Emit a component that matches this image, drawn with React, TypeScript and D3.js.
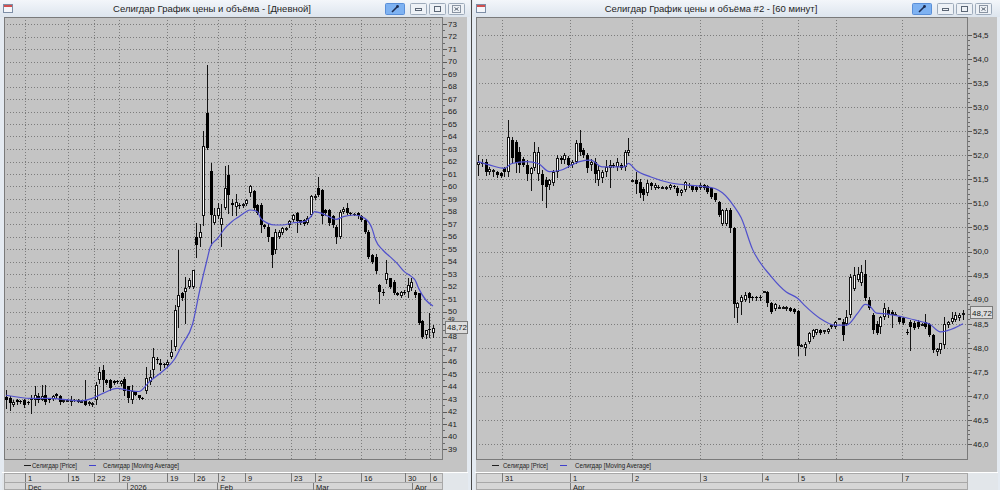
import React from "react";
import * as d3 from "d3";

type Candle = [number, number, number, number]; // open, high, low, close

// ---------- Daily panel data ----------
const dailyCandles: Candle[] = [
  [43.15, 43.7, 42.3, 42.9], [43.05, 43.2, 42.1, 42.65], [42.55, 42.9, 42.45, 42.8], [42.9, 43.0, 42.6, 42.75],
  [42.85, 42.95, 42.7, 42.8], [42.9, 43.0, 42.35, 42.5], [42.75, 42.85, 42.6, 42.7], [42.9, 43.3, 41.9, 43.1],
  [42.9, 44.0, 42.5, 43.3], [43.2, 43.5, 42.8, 42.9], [42.95, 44.1, 42.9, 43.2], [43.3, 44.1, 42.6, 42.8],
  [43.0, 43.1, 42.8, 42.9], [43.0, 43.3, 42.9, 43.2], [43.4, 43.5, 43.1, 43.2], [43.2, 43.3, 42.6, 42.8],
  [42.9, 43.0, 42.8, 42.9], [42.9, 43.0, 42.85, 42.95], [42.8, 43.2, 42.5, 42.95], [42.95, 43.0, 42.85, 42.9],
  [42.95, 43.0, 42.75, 42.8], [42.85, 42.9, 42.75, 42.85], [42.95, 44.5, 42.5, 42.5], [42.6, 42.85, 42.55, 42.8],
  [42.5, 42.75, 42.45, 42.7], [42.9, 44.4, 42.6, 44.1], [44.5, 45.6, 44.3, 45.2], [45.3, 45.7, 43.6, 44.5],
  [44.5, 44.6, 44.2, 44.3], [44.5, 44.6, 43.7, 43.9], [44.45, 44.5, 44.2, 44.3], [44.45, 44.5, 44.3, 44.35],
  [44.2, 44.5, 44.1, 44.45], [44.6, 44.8, 43.3, 43.6], [44.0, 44.0, 42.8, 43.05], [42.9, 44.1, 42.65, 43.6],
  [43.6, 43.65, 43.3, 43.35], [43.3, 43.35, 43.0, 43.1], [43.1, 43.15, 43.0, 43.05], [43.6, 45.6, 43.5, 44.65],
  [44.4, 45.3, 44.2, 44.8], [45.3, 47.05, 44.8, 46.4], [46.2, 46.4, 45.9, 46.1], [45.9, 46.2, 45.3, 45.7],
  [45.8, 45.9, 45.6, 45.75], [45.7, 46.1, 45.6, 46.0], [46.4, 47.7, 46.3, 46.8], [47.2, 50.5, 46.9, 50.1],
  [50.4, 54.9, 48.8, 51.3], [51.45, 51.6, 50.9, 51.05], [51.6, 52.8, 49.1, 51.9], [52.0, 52.7, 51.9, 52.5],
  [52.0, 53.3, 51.9, 53.3], [56.0, 57.1, 54.4, 55.3], [55.9, 57.0, 55.2, 56.4], [57.6, 64.4, 56.9, 63.2],
  [65.85, 69.7, 63.0, 63.05], [61.2, 61.9, 55.3, 57.7], [57.1, 58.3, 57.0, 57.7], [57.6, 58.7, 57.5, 58.3],
  [56.9, 58.6, 55.2, 57.5], [58.3, 61.6, 58.2, 59.9], [60.9, 61.7, 57.9, 59.3], [58.65, 59.0, 57.7, 58.5],
  [58.4, 59.4, 57.7, 58.8], [58.55, 58.7, 58.3, 58.5], [58.5, 58.7, 58.4, 58.6], [58.6, 59.0, 58.5, 58.9],
  [59.5, 60.1, 59.2, 60.0], [59.6, 59.7, 58.2, 58.3], [58.5, 58.6, 57.8, 57.9], [58.5, 58.65, 56.4, 56.9],
  [56.9, 57.0, 56.7, 56.8], [56.8, 57.05, 55.6, 56.0], [56.0, 56.0, 53.6, 54.5], [54.9, 56.6, 54.7, 56.4],
  [56.0, 56.5, 55.9, 56.4], [56.3, 56.8, 56.2, 56.65], [56.6, 56.75, 56.5, 56.65], [56.9, 57.3, 56.8, 57.2],
  [57.3, 57.8, 57.2, 57.7], [57.85, 58.0, 56.4, 57.2], [57.3, 57.35, 57.0, 57.1], [57.3, 57.4, 56.9, 57.0],
  [57.05, 57.6, 57.0, 57.45], [57.7, 59.3, 57.6, 59.2], [59.05, 59.4, 59.0, 59.2], [59.85, 60.8, 59.2, 59.3],
  [59.7, 59.8, 57.05, 57.6], [58.1, 58.2, 57.7, 57.85], [58.1, 58.2, 56.95, 57.05], [57.6, 57.7, 56.8, 56.9],
  [56.8, 56.9, 55.45, 56.0], [56.0, 58.1, 55.9, 58.0], [58.0, 58.4, 57.9, 58.2], [58.25, 58.65, 57.8, 57.85],
  [57.9, 58.0, 57.7, 57.8], [57.8, 57.9, 57.7, 57.75], [57.85, 57.95, 57.5, 57.6], [57.6, 57.7, 57.2, 57.3],
  [57.3, 57.4, 56.3, 56.4], [56.4, 56.5, 54.3, 54.4], [54.5, 54.6, 53.9, 54.0], [54.4, 54.6, 53.1, 53.2],
  [52.1, 52.2, 50.65, 51.6], [51.6, 51.8, 51.3, 51.45], [52.5, 54.1, 52.25, 53.05], [52.65, 52.7, 51.9, 52.0],
  [52.4, 52.5, 51.4, 51.45], [51.5, 51.6, 51.3, 51.35], [51.25, 51.65, 51.2, 51.6], [51.6, 51.7, 51.4, 51.5],
  [51.6, 52.65, 51.2, 52.1], [51.85, 52.65, 51.7, 52.4], [51.6, 51.7, 51.2, 51.3], [51.45, 51.5, 49.0, 49.05],
  [49.2, 49.3, 47.9, 48.0], [48.1, 48.55, 47.9, 48.5], [48.6, 49.85, 48.0, 48.5], [48.25, 48.9, 48.0, 48.72],
];

// moving average: [candle index, value]
const dailyMA: [number, number][] = [
  [0, 43.3], [7, 43.05], [12, 43.05], [21, 42.85], [24, 43.05], [27, 43.45], [31, 43.85], [34, 43.7],
  [37, 43.6], [40, 44.4], [44, 45.3], [47, 46.2], [49, 47.3], [52, 49.0], [54, 51.7], [56, 54.1],
  [57, 55.2], [59, 55.85], [61, 56.65], [63, 57.2], [65, 57.6], [67, 58.0], [68, 58.12], [70, 58.0],
  [71, 57.45], [73, 57.05], [75, 56.92], [77, 56.92], [80, 57.1], [83, 57.19], [85, 57.6], [86, 57.99],
  [88, 57.85], [90, 57.59], [92, 57.37], [94, 57.59], [97, 57.72], [100, 57.45], [102, 56.65], [103, 55.72],
  [105, 54.92], [107, 54.39], [109, 53.85], [111, 53.19], [113, 52.79], [114, 52.52], [115, 51.85],
  [117, 50.92], [119, 50.44],
];

const dailyDayTicks = [5.2, 17.4, 24.5, 31.5, 45.0, 52.3, 59.2, 66.6, 79.3, 86.0, 98.8, 111.1, 118.2];
const dailyDayLabels = ["1", "15", "22", "29", "19", "26", "2", "9", "23", "2", "16", "30", "6"];
const dailyMonthTicks = [5.2, 33.6, 58.8, 85.6, 113.1];
const dailyMonthLabels = ["Dec", "2026", "Feb", "Mar", "Apr"];
const dailyYTicks = d3.range(39, 74, 1);

// ---------- Hourly panel data ----------
const hourlyCandles: Candle[] = [
  [51.8, 52.0, 51.59, 51.87], [51.85, 51.92, 51.78, 51.82], [51.87, 51.93, 51.6, 51.66], [51.66, 51.75, 51.62, 51.71],
  [51.66, 51.72, 51.58, 51.7], [51.66, 51.68, 51.55, 51.59], [51.64, 51.66, 51.55, 51.57], [51.73, 51.76, 51.56, 51.66],
  [51.66, 52.73, 51.56, 52.39], [52.32, 52.39, 51.84, 51.94], [52.28, 52.32, 51.66, 51.83], [52.07, 52.18, 51.66, 51.8],
  [51.92, 51.96, 51.78, 51.8], [51.8, 51.9, 51.48, 51.62], [51.62, 51.76, 51.28, 51.73], [51.73, 52.28, 51.7, 52.07],
  [51.62, 52.18, 51.48, 52.07], [51.62, 51.69, 51.07, 51.38], [51.49, 51.55, 50.93, 51.35], [51.38, 51.5, 51.3, 51.49],
  [51.42, 51.7, 51.38, 51.66], [51.66, 52.0, 51.55, 51.94], [51.94, 51.98, 51.84, 51.9], [51.9, 52.05, 51.85, 52.0],
  [51.94, 51.98, 51.76, 51.8], [51.8, 51.9, 51.76, 51.87], [51.87, 52.32, 51.83, 52.25], [52.25, 52.52, 52.0, 52.07],
  [52.12, 52.16, 51.96, 52.0], [52.0, 52.04, 51.66, 51.73], [51.8, 51.92, 51.7, 51.87], [51.87, 51.94, 51.45, 51.62],
  [51.49, 51.8, 51.38, 51.69], [51.52, 51.7, 51.45, 51.66], [51.66, 51.9, 51.56, 51.76], [51.73, 51.9, 51.35, 51.8],
  [51.8, 51.85, 51.75, 51.78], [51.76, 51.94, 51.7, 51.87], [51.8, 51.85, 51.72, 51.73], [51.76, 52.1, 51.7, 52.07],
  [52.04, 52.35, 52.0, 52.1], [51.49, 51.5, 51.48, 51.49], [51.49, 51.66, 51.21, 51.4], [51.45, 51.5, 51.14, 51.21],
  [51.3, 51.35, 51.07, 51.18], [51.21, 51.49, 51.18, 51.42], [51.42, 51.45, 51.3, 51.36], [51.33, 51.42, 51.3, 51.38],
  [51.35, 51.38, 51.32, 51.34], [51.34, 51.36, 51.32, 51.34], [51.33, 51.36, 51.3, 51.34], [51.32, 51.4, 51.3, 51.38],
  [51.36, 51.38, 51.33, 51.35], [51.33, 51.36, 51.18, 51.21], [51.21, 51.3, 51.18, 51.28], [51.28, 51.47, 51.26, 51.45],
  [51.38, 51.42, 51.34, 51.36], [51.36, 51.38, 51.26, 51.28], [51.34, 51.36, 51.25, 51.27], [51.33, 51.42, 51.3, 51.38],
  [51.38, 51.4, 51.3, 51.33], [51.36, 51.38, 51.22, 51.24], [51.31, 51.33, 51.12, 51.14], [51.21, 51.22, 51.05, 51.07],
  [51.03, 51.06, 50.74, 50.76], [50.58, 50.88, 50.55, 50.86], [50.58, 50.9, 50.55, 50.86], [50.86, 50.9, 50.4, 50.48],
  [50.48, 50.5, 48.64, 48.9], [48.82, 48.96, 48.54, 48.92], [48.96, 49.09, 48.71, 49.06], [49.0, 49.16, 48.98, 49.09],
  [49.13, 49.16, 48.96, 49.03], [49.06, 49.08, 49.0, 49.03], [49.06, 49.08, 49.0, 49.03], [49.06, 49.1, 49.0, 49.03],
  [49.18, 49.19, 49.17, 49.18], [49.16, 49.18, 48.86, 48.92], [48.94, 48.96, 48.72, 48.75], [48.8, 48.92, 48.78, 48.9],
  [48.85, 48.88, 48.82, 48.85], [48.84, 48.86, 48.82, 48.84], [48.8, 48.86, 48.78, 48.84], [48.82, 48.84, 48.76, 48.77],
  [48.8, 48.82, 48.72, 48.75], [48.77, 48.79, 47.85, 48.03], [48.05, 48.07, 48.03, 48.05], [47.99, 48.13, 47.85, 48.08],
  [48.12, 48.32, 48.1, 48.3], [48.23, 48.4, 48.2, 48.37], [48.31, 48.38, 48.28, 48.38], [48.37, 48.39, 48.29, 48.31],
  [48.33, 48.37, 48.3, 48.36], [48.33, 48.41, 48.3, 48.4], [48.44, 48.48, 48.42, 48.47], [48.44, 48.56, 48.42, 48.54],
  [48.61, 48.62, 48.6, 48.61], [48.54, 48.6, 48.16, 48.26], [48.5, 48.78, 48.48, 48.64], [48.68, 49.54, 48.64, 49.47],
  [49.23, 49.68, 49.2, 49.51], [49.41, 49.68, 49.38, 49.54], [49.34, 49.72, 49.3, 49.58], [49.54, 49.82, 49.0, 49.03],
  [48.99, 49.06, 48.8, 48.82], [48.68, 48.72, 48.3, 48.37], [48.5, 48.55, 48.28, 48.3], [48.44, 48.66, 48.3, 48.64],
  [48.64, 48.92, 48.6, 48.82], [48.78, 48.85, 48.64, 48.68], [48.75, 48.78, 48.44, 48.68], [48.71, 48.74, 48.68, 48.71],
  [48.64, 48.66, 48.52, 48.54], [48.61, 48.63, 48.5, 48.51], [48.32, 48.4, 48.28, 48.3], [48.54, 48.58, 47.95, 48.44],
  [48.52, 48.55, 48.38, 48.42], [48.54, 48.57, 48.42, 48.44], [48.5, 48.52, 48.47, 48.5], [48.54, 48.7, 48.42, 48.44],
  [48.5, 48.52, 48.24, 48.26], [48.26, 48.28, 47.92, 47.95], [47.92, 48.0, 47.85, 47.98], [47.95, 48.1, 47.9, 48.09],
  [48.05, 48.64, 48.0, 48.5], [48.47, 48.56, 48.44, 48.54], [48.54, 48.75, 48.52, 48.61], [48.58, 48.75, 48.55, 48.68],
  [48.62, 48.72, 48.58, 48.68], [48.68, 48.78, 48.6, 48.72],
];

const hourlyMA: [number, number][] = [
  [0, 51.87], [3, 51.8], [7, 51.73], [9, 51.83], [13, 51.87], [16, 51.83], [19, 51.66], [22, 51.69],
  [25, 51.8], [27, 51.87], [30, 51.9], [33, 51.76], [36, 51.76], [39, 51.76], [40, 51.83], [42, 51.69],
  [46, 51.55], [51, 51.43], [56, 51.38], [60, 51.35], [63, 51.31], [65, 51.22], [68, 50.95], [70, 50.7],
  [73, 50.05], [78, 49.48], [82, 49.16], [85, 49.03], [87, 48.87], [91, 48.61], [95, 48.47], [98, 48.47],
  [101, 48.72], [103, 48.9], [104, 48.88], [106, 48.72], [109, 48.7], [113, 48.64], [118, 48.54],
  [120, 48.5], [123, 48.33], [125, 48.36], [129, 48.5],
];

const hourlyDayTicks = [6.4, 24.5, 41.0, 59.0, 75.5, 85.1, 95.2, 112.7];
const hourlyDayLabels = ["31", "1", "2", "3", "4", "5", "6", "7"];
const hourlyMonthTicks = [24.5];
const hourlyMonthLabels = ["Apr"];
const hourlyYTicks = d3.range(46, 54.51, 0.5);

const lastPrice = 48.72;
const legendNames = ["Селигдар [Price]", "Селигдар [Moving Average]"];

const FONT = "'Liberation Sans', Arial, sans-serif";
const PLOT_TOP = 17;
const PLOT_BOTTOM = 459;

type PanelProps = {
  winX0: number;
  winX1: number;
  title: string;
  titleX: number;
  plotX0: number;
  plotX1: number;
  candleRange: [number, number];
  candles: Candle[];
  ma: [number, number][];
  yDomain: [number, number];
  yRange: [number, number];
  yTicks: number[];
  minorStep: number;
  fmt: (v: number) => string;
  dayTicks: number[];
  dayLabels: string[];
  monthTicks: number[];
  monthLabels: string[];
  legendX: [number, number, number, number];
  legendW: [number, number];
  buttonsX: number;
};

const fmtLast = (v: number) => d3.format(".2f")(v).replace(".", ",");

function Panel(p: PanelProps) {
  const x = d3.scaleLinear().domain([0, p.candles.length - 1]).range(p.candleRange);
  const y = d3.scaleLinear().domain(p.yDomain).range(p.yRange);
  const crisp = (v: number) => Math.round(v) + 0.5;
  const maPath = d3
    .line<[number, number]>()
    .x((d) => x(d[0]))
    .y((d) => y(d[1]))
    .curve(d3.curveMonotoneX)(p.ma);
  const [lo, hi] = p.yDomain;
  const minor = d3.range(lo, hi + 1e-6, p.minorStep);
  const clipId = `clip-${p.winX0}`;
  const bx = p.buttonsX;
  const yLast = y(lastPrice);
  const boxTop = Math.round(yLast) - 6.5;
  const boxBottom = boxTop + 12;
  return (
    <g>
      {/* window frame */}
      <rect x={p.winX0} y={0} width={p.winX1 - p.winX0} height={490} fill="#e4eaf1" />
      <rect x={p.winX0} y={0} width={p.winX1 - p.winX0} height={17} fill="url(#titleGrad)" />
      {/* window icon */}
      <rect x={p.winX0 + 3.5} y={4.5} width={9} height={8} fill="#f4f6fa" stroke="#7d8ea6" />
      <rect x={p.winX0 + 4} y={5} width={8} height={2} fill="#d05050" />
      <text x={p.titleX} y={12} fontFamily={FONT} fontSize={9.5} fill="#1e1e1e" textAnchor="middle">
        {p.title}
      </text>
      {/* title buttons */}
      <rect x={bx + 0.5} y={3.5} width={19} height={11} rx={1} fill="#7eb2f2" stroke="#5a8fd8" />
      <path d={`M${bx + 7},${12} L${bx + 12},${7}`} stroke="#1d2c52" strokeWidth={1.6} />
      <circle cx={bx + 12.5} cy={6.5} r={1.4} fill="#1d2c52" />
      {[25, 44, 63].map((o, k) => (
        <g key={k}>
          <rect x={bx + o + 0.5} y={3.5} width={16} height={11} rx={1} fill="#edf1f6" stroke="#9eabbb" />
          {k === 0 && <rect x={bx + o + 5.5} y={8.5} width={6} height={2} fill="none" stroke="#5b6675" />}
          {k === 1 && <rect x={bx + o + 5.5} y={6.5} width={6} height={5} fill="none" stroke="#5b6675" />}
          {k === 2 && (
            <g>
              <rect x={bx + o + 4.5} y={5.5} width={8} height={7} fill="none" stroke="#8a94a2" />
              <path
                d={`M${bx + o + 6.5},${7.5} L${bx + o + 10.5},${10.5} M${bx + o + 10.5},${7.5} L${bx + o + 6.5},${10.5}`}
                stroke="#5b6675"
              />
            </g>
          )}
        </g>
      ))}
      {/* grey chart area incl. price axis + legend row */}
      <rect x={p.plotX0} y={PLOT_TOP} width={p.winX1 - 3 - p.plotX0} height={472 - PLOT_TOP} fill="#c4c4c4" />
      <defs>
        <clipPath id={clipId}>
          <rect x={p.plotX0} y={PLOT_TOP} width={p.plotX1 - p.plotX0} height={PLOT_BOTTOM - PLOT_TOP} />
        </clipPath>
      </defs>
      {/* grid */}
      {p.yTicks.map((t) => (
        <line
          key={`gy${t}`}
          x1={p.plotX0}
          x2={p.plotX1}
          y1={crisp(y(t))}
          y2={crisp(y(t))}
          stroke="#7c7c7c"
          strokeDasharray="1,2"
        />
      ))}
      {p.dayTicks.map((t, k) => (
        <line
          key={`gx${k}`}
          x1={crisp(x(t))}
          x2={crisp(x(t))}
          y1={PLOT_TOP}
          y2={PLOT_BOTTOM}
          stroke="#7c7c7c"
          strokeDasharray="1,2"
        />
      ))}
      <g clipPath={`url(#${clipId})`}>
        {p.candles.map((c, i) => {
          const [o, h, l, cl] = c;
          const cx = Math.round(x(i));
          const up = cl >= o;
          const top = Math.round(y(Math.max(o, cl)));
          const bot = Math.round(y(Math.min(o, cl)));
          const bh = Math.max(1, bot - top);
          return (
            <g key={i}>
              <line x1={cx + 0.5} x2={cx + 0.5} y1={Math.round(y(h))} y2={Math.round(y(l)) + 1} stroke="#141414" />
              {up ? (
                <rect x={cx - 0.5} y={top + 0.5} width={2} height={Math.max(1, bh - 1)} fill="#ffffff" stroke="#141414" />
              ) : (
                <rect x={cx - 1} y={top} width={3} height={bh} fill="#000000" />
              )}
            </g>
          );
        })}
        <path d={maPath ?? ""} fill="none" stroke="#5050cc" strokeWidth={1.2} />
      </g>
      <rect
        x={p.plotX0 + 0.5}
        y={PLOT_TOP + 0.5}
        width={p.plotX1 - p.plotX0 - 1}
        height={PLOT_BOTTOM - PLOT_TOP}
        fill="none"
        stroke="#7a7a7a"
      />
      {/* price axis */}
      {minor.map((t, k) => (
        <line key={`mt${k}`} x1={p.plotX1} x2={p.plotX1 + 2} y1={crisp(y(t))} y2={crisp(y(t))} stroke="#6a6a6a" />
      ))}
      {p.yTicks.map((t) => {
        const ty = y(t);
        // the label just above the last-price box is only partly visible in the reference
        const clipped = ty > boxTop - 4 && ty < boxBottom - 4;
        return (
          <g key={`yt${t}`}>
            <line x1={p.plotX1} x2={p.plotX1 + 4} y1={crisp(ty)} y2={crisp(ty)} stroke="#5a5a5a" />
            <text
              x={p.plotX1 + 5}
              y={clipped ? boxTop - 0.5 : ty}
              dy={clipped ? "0" : "0.35em"}
              fontFamily={FONT}
              fontSize={clipped ? 6 : 8}
              fill="#202020"
            >
              {p.fmt(t)}
            </text>
          </g>
        );
      })}
      <rect x={p.plotX1 + 2.5} y={boxTop} width={22} height={12} fill="#dcdcdc" stroke="#7a7a7a" />
      <text x={p.plotX1 + 4} y={yLast} dy="0.35em" fontFamily={FONT} fontSize={8} fill="#202020">
        {fmtLast(lastPrice)}
      </text>
      {/* legend */}
      <line x1={p.legendX[0]} x2={p.legendX[0] + 7} y1={465.5} y2={465.5} stroke="#202020" />
      <text x={p.legendX[1]} y={468} fontFamily={FONT} fontSize={7.5} fill="#202020" textLength={p.legendW[0]} lengthAdjust="spacingAndGlyphs">
        {legendNames[0]}
      </text>
      <line x1={p.legendX[2]} x2={p.legendX[2] + 7} y1={465.5} y2={465.5} stroke="#4040cc" />
      <text x={p.legendX[3]} y={468} fontFamily={FONT} fontSize={7.5} fill="#202020" textLength={p.legendW[1]} lengthAdjust="spacingAndGlyphs">
        {legendNames[1]}
      </text>
      {/* time axis band */}
      <line x1={p.winX0 + 2} x2={p.winX1 - 2} y1={472.5} y2={472.5} stroke="#ffffff" />
      <rect x={p.winX0 + 2} y={473} width={p.winX1 - p.winX0 - 4} height={17} fill="#e2e6ea" />
      <rect x={p.plotX0 + 0.5} y={473.5} width={p.plotX1 - p.plotX0 - 1} height={16} fill="#d6d6d6" stroke="#a8a8a8" />
      <line x1={p.plotX0} x2={p.plotX1} y1={482.5} y2={482.5} stroke="#a8a8a8" />
      {p.dayTicks.map((t, k) => (
        <g key={`dt${k}`}>
          <line x1={crisp(x(t))} x2={crisp(x(t))} y1={473} y2={482} stroke="#7a7a7a" />
          <text x={Math.round(x(t)) + 3} y={481} fontFamily={FONT} fontSize={7.5} fill="#202020">
            {p.dayLabels[k]}
          </text>
        </g>
      ))}
      {p.monthTicks.map((t, k) => (
        <g key={`mo${k}`}>
          <line x1={crisp(x(t))} x2={crisp(x(t))} y1={483} y2={490} stroke="#7a7a7a" />
          <text x={Math.round(x(t)) + 3} y={489.5} fontFamily={FONT} fontSize={7.5} fill="#202020">
            {p.monthLabels[k]}
          </text>
        </g>
      ))}
    </g>
  );
}

const fmtInt = (v: number) => d3.format("d")(v);
const fmtDec = (v: number) => d3.format(".1f")(v).replace(".", ",");

export default function App() {
  return (
    <svg
      width={1000}
      height={490}
      viewBox="0 0 1000 490"
      style={{ position: "absolute", left: 0, top: 0, display: "block" }}
    >
      <defs>
        <linearGradient id="titleGrad" x1="0" y1="0" x2="0" y2="1">
          <stop offset="0" stopColor="#f3f6fa" />
          <stop offset="1" stopColor="#dde5ee" />
        </linearGradient>
      </defs>
      <rect x={0} y={0} width={1000} height={490} fill="#e4eaf1" />
      <Panel
        winX0={0}
        winX1={470}
        title="Селигдар График цены и объёма - [Дневной]"
        titleX={212}
        plotX0={4}
        plotX1={443}
        candleRange={[6, 433]}
        candles={dailyCandles}
        ma={dailyMA}
        yDomain={[39, 73]}
        yRange={[449, 24]}
        yTicks={dailyYTicks}
        minorStep={0.5}
        fmt={fmtInt}
        dayTicks={dailyDayTicks}
        dayLabels={dailyDayLabels}
        monthTicks={dailyMonthTicks}
        monthLabels={dailyMonthLabels}
        legendX={[24, 32, 89, 103]}
        legendW={[45, 76]}
        buttonsX={385}
      />
      <Panel
        winX0={473}
        winX1={1000}
        title="Селигдар График цены и объёма #2 - [60 минут]"
        titleX={711}
        plotX0={476}
        plotX1={968}
        candleRange={[478, 963]}
        candles={hourlyCandles}
        ma={hourlyMA}
        yDomain={[46, 54.5]}
        yRange={[444, 35]}
        yTicks={hourlyYTicks}
        minorStep={0.1}
        fmt={fmtDec}
        dayTicks={hourlyDayTicks}
        dayLabels={hourlyDayLabels}
        monthTicks={hourlyMonthTicks}
        monthLabels={hourlyMonthLabels}
        legendX={[492, 503, 560, 575]}
        legendW={[45, 76]}
        buttonsX={912}
      />
      <line x1={471.5} x2={471.5} y1={0} y2={490} stroke="#4a4a4a" />
    </svg>
  );
}
